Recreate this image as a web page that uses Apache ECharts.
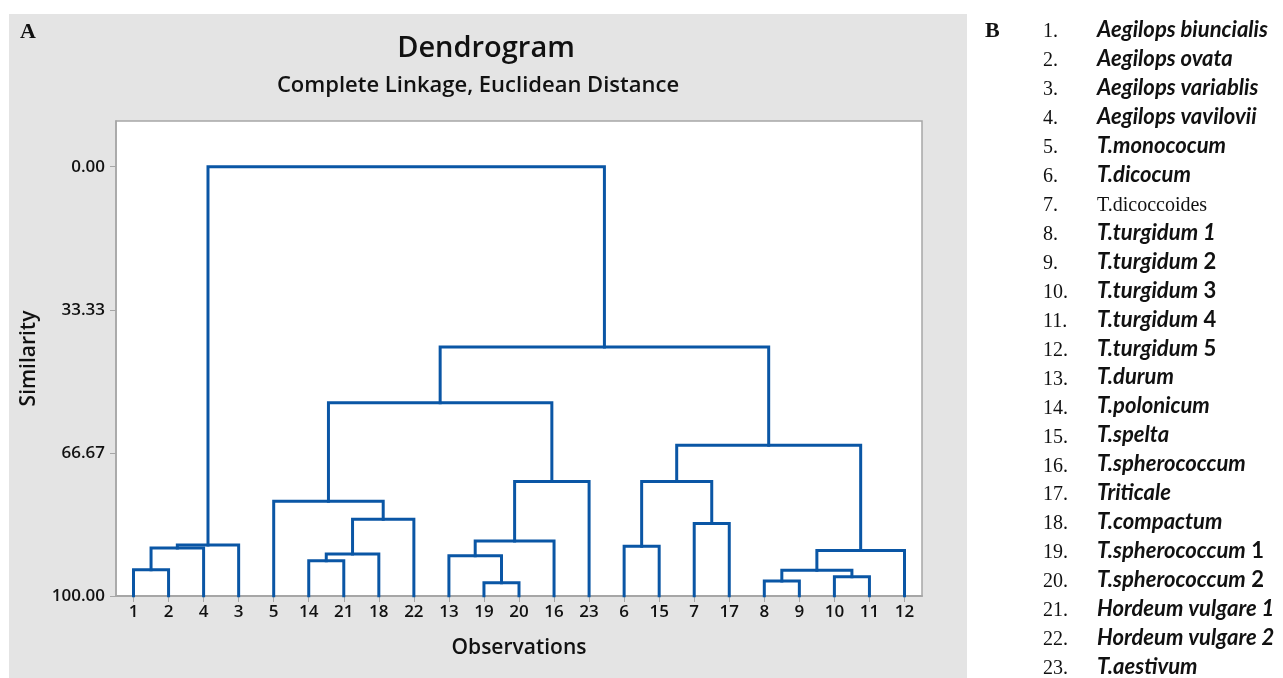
<!DOCTYPE html>
<html>
<head>
<meta charset="utf-8">
<script src="https://cdn.jsdelivr.net/npm/echarts@6/dist/echarts.min.js"></script>
<style>
  html, body { margin: 0; padding: 0; background: #fff; }
  #chart { width: 1283px; height: 678px; }
</style>
</head>
<body>
<div id="chart"></div>
<script>
// leaf order along the x axis (observation numbers)
var leafOrder = [1, 2, 4, 3, 5, 14, 21, 18, 22, 13, 19, 20, 16, 23, 6, 15, 7, 17, 8, 9, 10, 11, 12];
// joins: positive = observation, negative = earlier join (-1 is the first join)
var joinLeft  = [19, 8, 10, -2, 1, 14, 13, -6, -4, -5, 6, -10, -7, 7, -8, 5, -13, -11, -18, -16, -20, -12];
var joinRight = [20, 9, 11, -3, 2, 21, -1, 18, 12, 4, 15, 3, 16, 17, 22, -15, 23, -14, -9, -17, -19, -21];
var joinSim   = [96.9, 96.5, 95.5, 94.0, 93.9, 91.8, 90.6, 90.2, 89.4, 88.8, 88.4, 88.1, 87.2, 83.1, 82.1, 77.9, 73.3, 73.3, 64.9, 55.0, 42.0, 0.0];
var yTicks = [0, 33.33, 66.67, 100];

var speciesMain = ['Aegilops biuncialis', 'Aegilops ovata', 'Aegilops variablis', 'Aegilops vavilovii',
    'T.monococum', 'T.dicocum', 'T.dicoccoides', 'T.turgidum 1', 'T.turgidum', 'T.turgidum',
    'T.turgidum', 'T.turgidum', 'T.durum', 'T.polonicum', 'T.spelta', 'T.spherococcum',
    'Triticale', 'T.compactum', 'T.spherococcum', 'T.spherococcum', 'Hordeum vulgare 1',
    'Hordeum vulgare 2', 'T.aestivum'];
var speciesSuffix = ['', '', '', '', '', '', '', '', ' 2', ' 3', ' 4', ' 5', '', '', '', '', '', '', ' 1', ' 2', '', '', ''];
var plainRows = [7];

// positions of the nodes (x = index in leafOrder, y = similarity)
function nodePos(ref, joins) {
    if (ref > 0) return [leafOrder.indexOf(ref) + 1, 100];
    return joins[-ref - 1];
}
var joins = [];
var segs = [];
for (var i = 0; i < joinSim.length; i++) {
    var a = nodePos(joinLeft[i], joins);
    var b = nodePos(joinRight[i], joins);
    var h = joinSim[i];
    segs.push({ coords: [[a[0], a[1]], [a[0], h], [b[0], h], [b[0], b[1]]] });
    joins.push([(a[0] + b[0]) / 2, h]);
}

var xTicks = [];
for (var k = 1; k <= leafOrder.length; k++) xTicks.push(k);

// species list on the right (panel B)
var listGraphics = [];
for (var r = 0; r < speciesMain.length; r++) {
    var yy = 30 + r * 28.95;
    var num = r + 1;
    listGraphics.push({
        type: 'text', x: 1043, y: yy + 2,
        style: { text: num + '.', font: '20px "Liberation Serif"', fill: '#111', verticalAlign: 'middle' }
    });
    var isPlain = plainRows.indexOf(num) >= 0;
    listGraphics.push({
        type: 'text', x: 1097, y: yy + (isPlain ? 2 : 0),
        style: {
            text: isPlain ? speciesMain[r] : '{i|' + speciesMain[r] + '}{u|' + speciesSuffix[r] + '}',
            font: isPlain ? '20px "Liberation Serif"' : 'italic bold 22px Lato',
            fill: '#111',
            verticalAlign: 'middle',
            rich: {
                i: { fontFamily: 'Lato', fontStyle: 'italic', fontWeight: 'bold', fontSize: 22, fill: '#111' },
                u: { fontFamily: 'Lato', fontWeight: 'bold', fontSize: 22, fill: '#111' }
            }
        }
    });
}

var chart = echarts.init(document.getElementById('chart'));
var option = {
    animation: false,
    backgroundColor: '#fff',
    graphic: [
        { type: 'rect', shape: { x: 9, y: 14, width: 958, height: 664 }, style: { fill: '#e4e4e4' }, z: -10 },
        { type: 'text', x: 20, y: 32, style: { text: 'A', font: 'bold 22px "Liberation Serif"', fill: '#111', verticalAlign: 'middle' } },
        { type: 'text', x: 985, y: 31, style: { text: 'B', font: 'bold 22px "Liberation Serif"', fill: '#111', verticalAlign: 'middle' } },
        { type: 'text', x: 486, y: 49, style: { text: 'Dendrogram', font: '600 29px "Open Sans"', fill: '#111', align: 'center', verticalAlign: 'middle' } },
        { type: 'text', x: 478, y: 86, style: { text: 'Complete Linkage, Euclidean Distance', font: '600 22px "Open Sans"', fill: '#111', align: 'center', verticalAlign: 'middle' } }
    ].concat(listGraphics),
    grid: {
        left: 116, top: 121, width: 806, height: 475,
        show: true, backgroundColor: '#fff', borderColor: '#a6a6a6', borderWidth: 1.5
    },
    xAxis: {
        type: 'value', min: 0.5, max: 23.5,
        name: 'Observations', nameLocation: 'middle', nameGap: 42,
        nameTextStyle: { fontFamily: 'Open Sans', fontWeight: 600, fontSize: 21, color: '#111' },
        splitLine: { show: false },
        axisLine: { show: true, onZero: false, lineStyle: { color: '#a6a6a6', width: 2 } },
        axisTick: { show: true, length: 6, customValues: xTicks, lineStyle: { color: '#a6a6a6' } },
        axisLabel: {
            customValues: xTicks, margin: 8,
            fontFamily: 'Open Sans', fontWeight: 600, fontSize: 17, color: '#111',
            formatter: function (v) { return String(leafOrder[Math.round(v) - 1]); }
        }
    },
    yAxis: {
        type: 'value', inverse: true, min: -10.65, max: 100,
        name: 'Similarity', nameLocation: 'middle', nameGap: 76,
        nameTextStyle: { fontFamily: 'Open Sans', fontWeight: 600, fontSize: 21, color: '#111' },
        splitLine: { show: false },
        axisLine: { show: true, onZero: false, lineStyle: { color: '#a6a6a6', width: 1.5 } },
        axisTick: { show: true, length: 6, customValues: yTicks, lineStyle: { color: '#a6a6a6' } },
        axisLabel: {
            customValues: yTicks, margin: 11,
            fontFamily: 'Open Sans', fontWeight: 600, fontSize: 17, color: '#111',
            formatter: function (v) { return v.toFixed(2); }
        }
    },
    series: [{
        type: 'lines',
        coordinateSystem: 'cartesian2d',
        polyline: true,
        lineStyle: { color: '#0a56a5', width: 3, opacity: 1, join: 'miter', cap: 'square' },
        data: segs
    }]
};
chart.setOption(option);
</script>
</body>
</html>
